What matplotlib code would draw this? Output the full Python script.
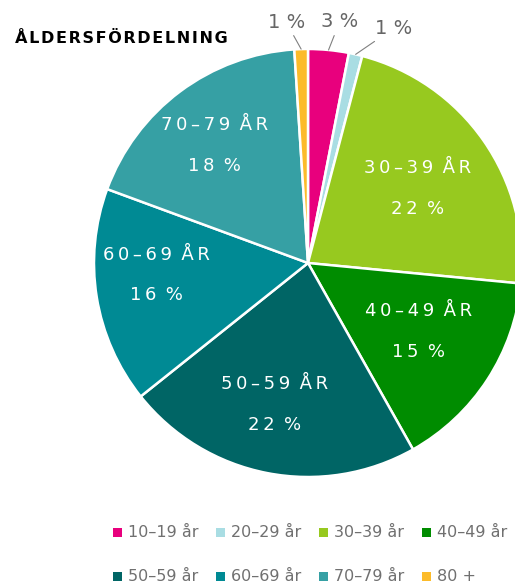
import numpy as np
import matplotlib
matplotlib.use("Agg")
from matplotlib import pyplot as plt
from matplotlib.patches import Rectangle

# data
ages = ["10–19", "20–29", "30–39", "40–49", "50–59", "60–69", "70–79", "80 +"]
shares = [3, 1, 22, 15, 22, 16, 18, 1]
legend_labels = ["10–19 år", "20–29 år", "30–39 år", "40–49 år",
                 "50–59 år", "60–69 år", "70–79 år", "80 +"]
colors = ["#e8007d", "#a9dde3", "#97c91f", "#008c00",
          "#006565", "#008a94", "#36a0a4", "#fcbb2a"]
title = "ÅLDERSFÖRDELNING"

# label placement inside slices: slice index -> (radius, angle nudge clockwise in deg)
inner_pos = {2: (0.62, 0.6), 3: (0.61, -1.3), 4: (0.68, 2.2), 5: (0.71, 4.7), 6: (0.70, -1.8)}
# small slices get an outside label, offset in pixels from the slice edge
outer_off = {0: (11, 28), 1: (38, 26), 7: (-15, 27)}

THIN = "\u2009"


def spaced(s, sep=THIN):
    # poor man's letter spacing
    return sep.join(s).replace(sep + " " + sep, " " + sep)


W, H = 515, 584
fig = plt.figure(figsize=(W / 100, H / 100), dpi=100)

cx, cy, R = 308, 263, 214  # pie centre / radius in pixels
ax = fig.add_axes([(cx - R) / W, (H - cy - R) / H, 2 * R / W, 2 * R / H])
wedges, _ = ax.pie(shares, colors=colors, startangle=90, counterclock=False,
                   wedgeprops=dict(edgecolor="white", linewidth=1.8))
ax.set_xlim(-1, 1)
ax.set_ylim(-1, 1)

for i, (r, nudge) in inner_pos.items():
    w = wedges[i]
    ang = np.deg2rad((w.theta1 + w.theta2) / 2 - nudge)
    x, y = r * np.cos(ang), r * np.sin(ang)
    ax.text(x, y + 0.095, spaced(ages[i] + " ÅR"), color="white", fontsize=13,
            ha="center", va="center")
    ax.text(x, y - 0.095, spaced(f"{shares[i]} %"), color="white", fontsize=13,
            ha="center", va="center")

for i, (dx, dy) in outer_off.items():
    w = wedges[i]
    ang = np.deg2rad((w.theta1 + w.theta2) / 2)
    ax.annotate(f"{shares[i]} %", xy=(np.cos(ang), np.sin(ang)), xytext=(dx, dy),
                textcoords="offset pixels", ha="center", va="center",
                fontsize=14, color="#666666", annotation_clip=False,
                arrowprops=dict(arrowstyle="-", color="#808080", lw=0.8,
                                shrinkA=1, shrinkB=0))

fig.text(15 / W, 1 - 43 / H, spaced(title, "\u200a"), fontsize=11.5,
         fontweight="bold", color="black", va="baseline", ha="left")

# legend, two rows of four
for k, lab in enumerate(legend_labels):
    row, col = divmod(k, 4)
    x0 = 113 + col * 103
    base = 537 + row * 44
    fig.add_artist(Rectangle((x0 / W, 1 - base / H), 9 / W, 9 / H,
                             transform=fig.transFigure, color=colors[k], lw=0))
    fig.text((x0 + 15) / W, 1 - base / H, lab, fontsize=11.5, color="#707070",
             va="baseline", ha="left")

fig.savefig("out.png", dpi=100)
